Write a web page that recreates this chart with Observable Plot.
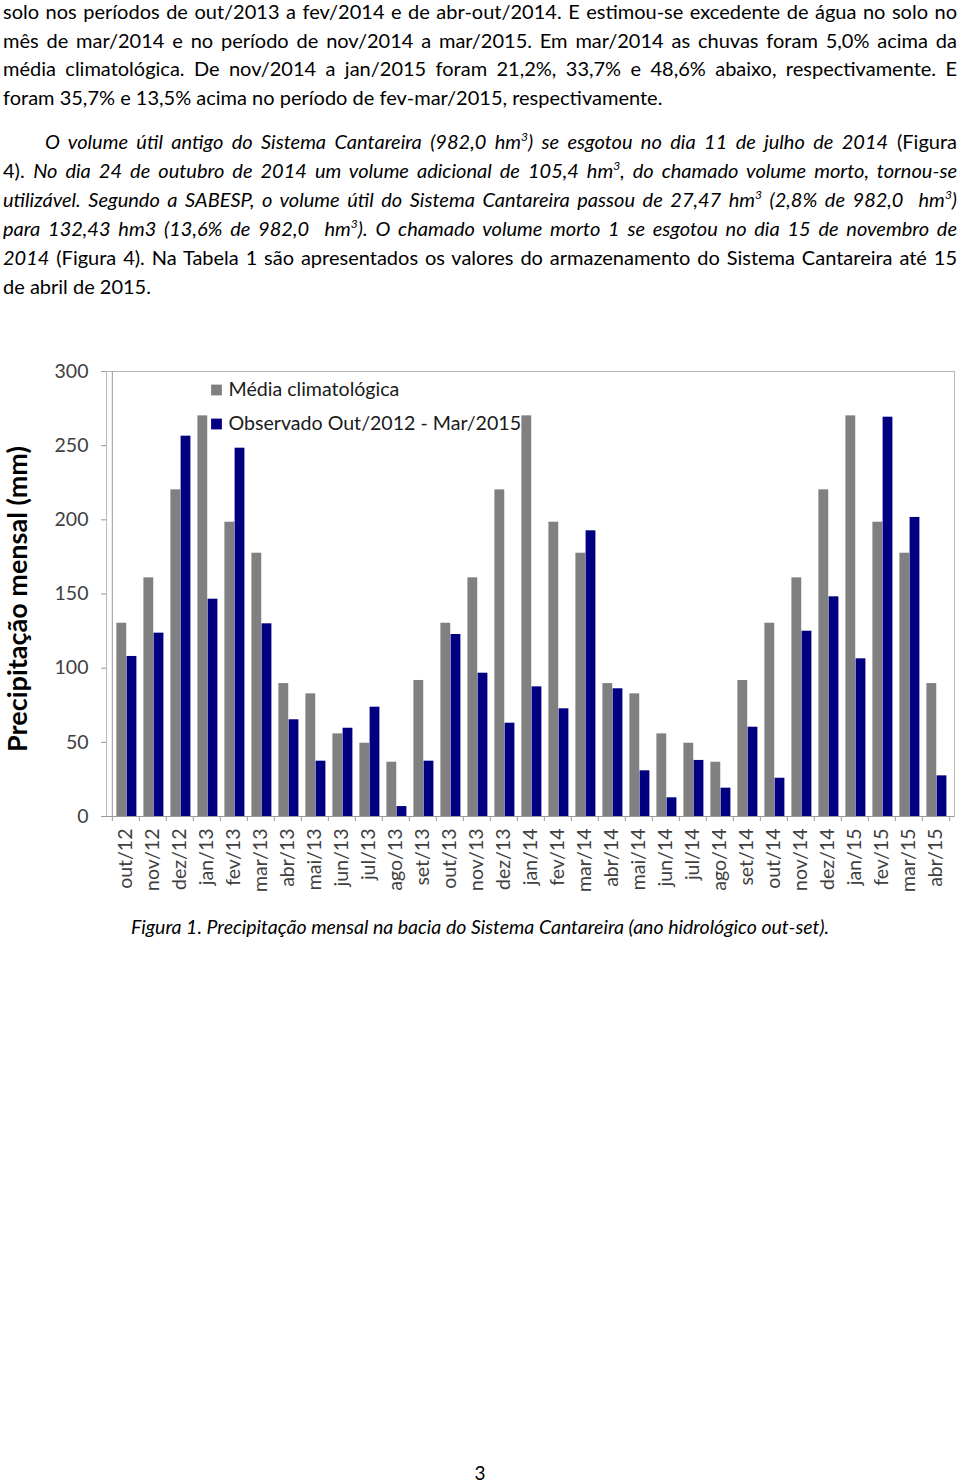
<!DOCTYPE html>
<html><head><meta charset="utf-8">
<script src="https://cdn.jsdelivr.net/npm/d3@7"></script>
<script src="https://cdn.jsdelivr.net/npm/@observablehq/plot@0.6"></script>
<style>
html,body{margin:0;padding:0;background:#fff;}
body{width:960px;height:1482px;position:relative;overflow:hidden;font-family:Lato,"Open Sans",sans-serif;color:#000;}
.ln{position:absolute;left:3px;width:954px;height:29px;line-height:29px;font-size:20px;text-align:justify;text-align-last:justify;}
.ln.last{text-align-last:left;}
.ln.ind{left:45px;width:912px;}
i{font-style:italic;}
sup{font-size:0.6em;line-height:0;vertical-align:0.65em;}
#chart{position:absolute;left:0;top:340px;}
#caption{position:absolute;left:0;width:960px;top:912px;text-align:center;font-size:19.5px;font-style:italic;line-height:29px;}
#page{position:absolute;left:0;width:960px;top:1458px;text-align:center;font-size:19px;line-height:29px;}
</style></head>
<body>
<div class="ln" style="top:-3px">solo nos períodos de out/2013 a fev/2014 e de abr-out/2014. E estimou-se excedente de água no solo no</div>
<div class="ln" style="top:26px">mês de mar/2014 e no período de nov/2014 a mar/2015. Em mar/2014 as chuvas foram 5,0% acima da</div>
<div class="ln" style="top:54px">média climatológica. De nov/2014 a jan/2015 foram 21,2%, 33,7% e 48,6% abaixo, respectivamente. E</div>
<div class="ln last" style="top:83px">foram 35,7% e 13,5% acima no período de fev-mar/2015, respectivamente.</div>

<div class="ln ind" style="top:127px"><i>O volume útil antigo do Sistema Cantareira (982,0 hm<sup>3</sup>) se esgotou no dia 11 de julho de 2014</i> (Figura</div>
<div class="ln" style="top:156px">4). <i>No dia 24 de outubro de 2014 um volume adicional de 105,4 hm<sup>3</sup>, do chamado volume morto, tornou-se</i></div>
<div class="ln" style="top:185px"><i>utilizável. Segundo a SABESP, o volume útil do Sistema Cantareira passou de 27,47 hm<sup>3</sup> (2,8% de 982,0&nbsp; hm<sup>3</sup>)</i></div>
<div class="ln" style="top:214px"><i>para 132,43 hm3 (13,6% de 982,0&nbsp; hm<sup>3</sup>). O chamado volume morto 1 se esgotou no dia 15 de novembro de</i></div>
<div class="ln" style="top:243px"><i>2014</i> (Figura 4). Na Tabela 1 são apresentados os valores do armazenamento do Sistema Cantareira até 15</div>
<div class="ln last" style="top:272px">de abril de 2015.</div>

<div id="chart"></div>
<div id="caption">Figura 1. Precipitação mensal na bacia do Sistema Cantareira (ano hidrológico out-set).</div>
<div id="page">3</div>

<script>
const months = ["out/12","nov/12","dez/12","jan/13","fev/13","mar/13","abr/13","mai/13","jun/13","jul/13","ago/13","set/13",
  "out/13","nov/13","dez/13","jan/14","fev/14","mar/14","abr/14","mai/14","jun/14","jul/14","ago/14","set/14",
  "out/14","nov/14","dez/14","jan/15","fev/15","mar/15","abr/15"];
const climatologia = [130.3,160.9,220.2,270.1,198.4,177.5,89.6,82.7,55.7,49.4,36.6,91.7,
  130.3,160.9,220.2,270.1,198.4,177.5,89.6,82.7,55.7,49.4,36.6,91.7,
  130.3,160.9,220.2,270.1,198.4,177.5,89.6];
const observado = [107.9,123.6,256.4,146.5,248.3,129.9,65.2,37.3,59.5,73.7,6.7,37.3,
  122.7,96.6,62.9,87.4,72.6,192.6,86.1,30.8,12.6,37.8,19.1,60.2,
  25.8,124.9,148.1,106.3,269.2,201.6,27.4];
const seriesNames = ["Média climatológica","Observado Out/2012 - Mar/2015"];
const seriesColors = ["#808080","#000080"];
const yTicks = [0,50,100,150,200,250,300];
const yTitle = "Precipitação mensal (mm)";

const W = 960, H = 560, mL = 106, mR = 6, mT = 31, mB = 84;
const bw = (W - mL - mR) / months.length;
const axisColor = "#9a9a9a";

const legendMarks = seriesNames.flatMap((s, i) => [
  Plot.dot([s], {frameAnchor: "top-left", dx: 110, dy: 18.5 + 34 * i, symbol: "square", r: 6.1, fill: seriesColors[i], stroke: null}),
  Plot.text([s], {frameAnchor: "top-left", dx: 122, dy: 18.5 + 34 * i, text: d => d, textAnchor: "start", lineAnchor: "middle", fontSize: 19.6, fill: "#1a1a1a"})
]);

const chart = Plot.plot({
  width: W, height: H,
  marginLeft: mL, marginRight: mR, marginTop: mT, marginBottom: mB,
  style: {fontFamily: "Lato, sans-serif", fontSize: "19.5px", color: "#404040", background: "transparent", overflow: "visible"},
  x: {type: "band", domain: months, padding: 0},
  y: {domain: [0, 300]},
  marks: [
    Plot.frame({stroke: "#b8b8b8"}),
    Plot.barY(months, {x: d => d, y: (d, i) => climatologia[i], fill: seriesColors[0], insetLeft: 4.4, insetRight: bw - 14.6}),
    Plot.barY(months, {x: d => d, y: (d, i) => observado[i], fill: seriesColors[1], insetLeft: 14.6, insetRight: 2.6}),
    Plot.ruleY([0], {stroke: axisColor}),
    Plot.ruleX([months[0]], {dx: -bw / 2, stroke: axisColor}),
    Plot.axisY({ticks: yTicks, tickSize: 5, tickPadding: 13, stroke: axisColor, label: null, fill: "#404040"}),
    Plot.axisX({tickSize: 5, tickFormat: () => "", dx: -bw / 2, label: null, stroke: axisColor}),
    Plot.axisX({ticks: [months[months.length - 1]], tickSize: 5, tickFormat: () => "", dx: bw / 2, label: null, stroke: axisColor}),
    Plot.axisX({tickSize: 0, tickRotate: -90, tickPadding: 12, label: null, fill: "#404040"}),
    Plot.text([yTitle], {frameAnchor: "left", rotate: -90, dx: -88, dy: 5, text: d => d, textAnchor: "middle", lineAnchor: "middle", fontSize: 27, fontWeight: "bold", fill: "#000"}),
    ...legendMarks
  ]
});
document.getElementById("chart").appendChild(chart);
</script>
</body></html>
